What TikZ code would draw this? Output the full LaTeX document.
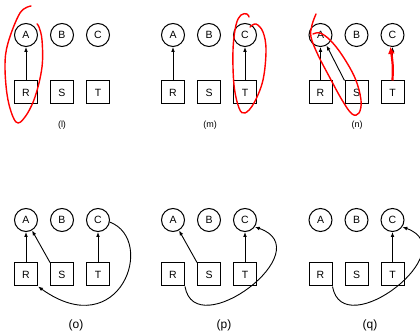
\documentclass[tikz,border=0pt]{standalone}
\usepackage{fontspec}
\setmainfont{Liberation Sans}
\usetikzlibrary{arrows.meta}

% one panel: three resource circles over three process boxes
\newcommand\rsgpanel[4]{%
  \node[proc] (#1A) at (#2+26,#3) {A};
  \node[proc] (#1B) at (#2+62,#3) {B};
  \node[proc] (#1C) at (#2+98,#3) {C};
  \node[res]  (#1R) at (#2+26,#4) {R};
  \node[res]  (#1S) at (#2+62,#4) {S};
  \node[res]  (#1T) at (#2+98,#4) {T};
}

\begin{document}
\begin{tikzpicture}[x=1pt,y=-1pt,
  proc/.style={circle,draw,line width=1pt,minimum size=23pt,inner sep=0pt,
    font=\fontsize{10.5}{11}\selectfont},
  res/.style={rectangle,draw,line width=1pt,minimum size=23pt,inner sep=0pt,
    font=\fontsize{10.5}{11}\selectfont},
  edge/.style={line width=0.9pt,-{Latex[length=5pt,width=3.8pt]}},
  redpen/.style={red,line width=1.4pt,line cap=round,line join=round},
  smallcap/.style={font=\fontsize{9}{10}\selectfont},
  bigcap/.style={font=\fontsize{12}{14}\selectfont}
]
\useasboundingbox (0,0) rectangle (420,336);

% top row
\rsgpanel{l}{0}{35}{92.5}
\rsgpanel{m}{147}{35}{92.5}
\rsgpanel{n}{294.5}{35}{92.5}
% bottom row
\rsgpanel{o}{0}{220}{274.5}
\rsgpanel{p}{147}{220}{274.5}
\rsgpanel{q}{294.5}{220}{274.5}

% (l)
\draw[edge] (lR) -- (lA);
% (m)
\draw[edge] (mR) -- (mA);
\draw[edge] (mT) -- (mC);
% (n)
\draw[edge] (nR) -- (nA);
\draw[edge] (nS.north west) -- (nA.-60);
\draw[edge] (nT) -- (nC);
% (o)
\draw[edge] (oR) -- (oA);
\draw[edge] (oS.north west) -- (oA.-60);
\draw[edge] (oT) -- (oC);
\draw[edge] (oC.-10) .. controls (157,240) and (120,345) .. (oR.south east);
% (p)
\draw[edge] (pS.north west) -- (pA.-60);
\draw[edge] (pT) -- (pC);
\draw[edge] (pR.south east) .. controls (195,345) and (322,250) .. (pC.-35);
% (q)
\draw[edge] (qT) -- (qC);
\draw[edge] (qR.south east) .. controls (343,345) and (466,250) .. (qC.-35);

% captions
\node[smallcap] (capl) at (62,125) {(l)};
\node[smallcap] (capm) at (210,125) {(m)};
\node[smallcap] (capn) at (357,125) {(n)};
\node[bigcap] (capo) at (76,325) {(o)};
\node[bigcap] (capp) at (224,325) {(p)};
\node[bigcap] (capq) at (370,325) {(q)};

% red pen marks
\draw[redpen] plot[smooth,tension=0.6] coordinates {(31,6) (20,13) (8,43) (5,67) (8,100) (16,122)
  (25,117) (35,97) (42,67) (42,40) (39,27) (37,24)};
\draw[redpen] plot[smooth,tension=0.6] coordinates {(250,27) (256,24) (263,32) (266,50) (263,80)
  (254,103) (245,113) (239,108) (234,85) (233,50) (236,25) (241,15) (247,14) (249,17)};
\draw[redpen] plot[smooth,tension=0.6] coordinates {(316,14) (312,25) (311,37) (318,55) (330,78)
  (342,100) (352,114) (359,113) (361,100) (355,78) (342,55) (330,40) (320,33) (313,34)};
\draw[red,line width=2.2pt,-{Latex[length=7pt,width=7pt]}] (nT.north) .. controls (393,65) .. (nC.-100);
\end{tikzpicture}
\end{document}
